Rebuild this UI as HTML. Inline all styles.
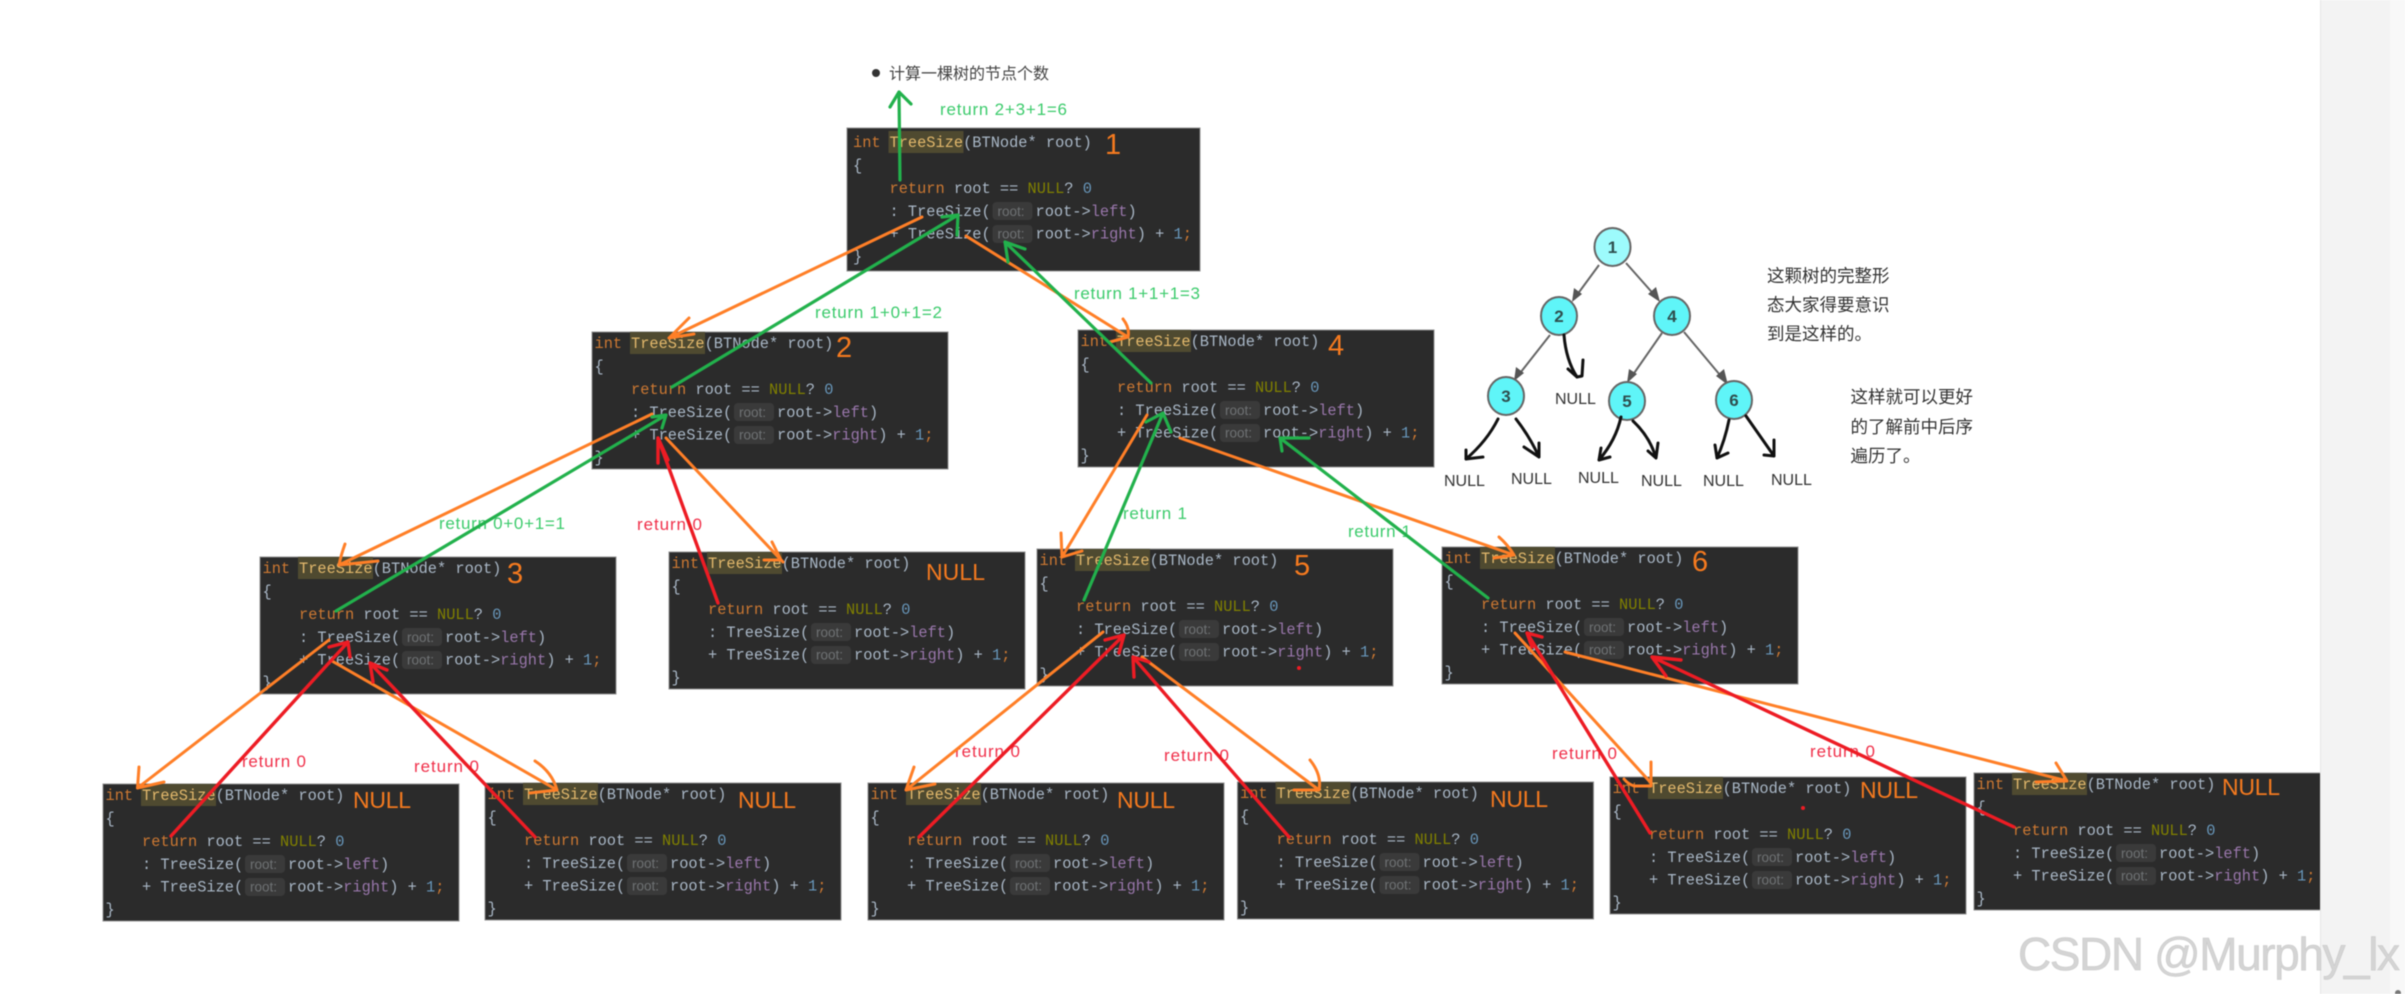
<!DOCTYPE html>
<html lang="zh">
<head>
<meta charset="utf-8">
<title>TreeSize</title>
<style>
html,body{margin:0;padding:0;background:#fff;width:2405px;height:994px;overflow:hidden}
svg{display:block;filter:blur(.45px)}
.c{font-family:"Liberation Mono",monospace;font-size:15.33px;fill:#a9b7c6}
.k{fill:#cc7832}.h{fill:#e2b86c}.n{fill:#808000}.d{fill:#6897bb}.p{fill:#9876aa}.g{fill:#6f7274;font-family:"Liberation Sans",sans-serif;font-size:13.5px}
.bx{fill:#2b2b2b;stroke:#8d8d8d;stroke-width:1}
.hl{fill:#4f4a30}.ch{fill:#3a3a3a}
.o{fill:none;stroke:#ff7f27;stroke-width:3;stroke-linecap:round;stroke-linejoin:round}
.r{fill:none;stroke:#ed1c24;stroke-width:3.4;stroke-linecap:round;stroke-linejoin:round}
.v{fill:none;stroke:#22b14c;stroke-width:3.2;stroke-linecap:round;stroke-linejoin:round}
.b{fill:none;stroke:#111;stroke-width:3;stroke-linecap:round;stroke-linejoin:round}
.t{fill:none;stroke:#666;stroke-width:2}
.lg{font-family:"Liberation Sans",sans-serif;font-size:17px;fill:#3ccb6c}
.lr{font-family:"Liberation Sans",sans-serif;font-size:17px;fill:#f0304a}
.on{font-family:"Liberation Sans",sans-serif;font-size:29px;fill:#f57a1f}
.ol{font-family:"Liberation Sans",sans-serif;font-size:23px;fill:#f57a1f}
.nl{font-family:"Liberation Sans",sans-serif;font-size:16px;fill:#333}
.zh{font-family:"Liberation Sans","Noto Sans CJK SC",sans-serif;font-size:17.5px;fill:#333}
.nd{fill:#5ff5f8;stroke:#666;stroke-width:2}
.nt{font-family:"Liberation Sans",sans-serif;font-size:17px;font-weight:bold;fill:#2f4f4f;text-anchor:middle}
</style>
</head>
<body>
<svg width="2405" height="994" viewBox="0 0 2405 994" xmlns="http://www.w3.org/2000/svg">
<rect width="2405" height="994" fill="#fff"/>

<circle cx="876" cy="73" r="4" fill="#333"/>
<text x="889" y="79" font-size="16" fill="#444" font-family="'Liberation Sans','Noto Sans CJK SC',sans-serif">计算一棵树的节点个数</text>

<!-- Box 1 -->
<g transform="translate(850.5,131)"><rect class="bx" x="-3.5" y="-3" width="353" height="143"/><rect class="hl" x="38" y="0" width="75" height="22"/><rect class="ch" x="142" y="71" width="40" height="18" rx="4"/><rect class="ch" x="142" y="94" width="40" height="18" rx="4"/>
<text class="c" x="2.5" y="16"><tspan class="k">int</tspan></text><text class="c" x="39" y="16"><tspan class="h">TreeSize</tspan>(BTNode* root)</text><text class="c" x="2.5" y="39">{</text><text class="c" x="39" y="62"><tspan class="k">return</tspan> root == <tspan class="n">NULL</tspan>? <tspan class="d">0</tspan></text><text class="c" x="39" y="85">: TreeSize(</text><text class="g" x="147" y="85">root:</text><text class="c" x="185" y="85">root-&gt;<tspan class="p">left</tspan>)</text><text class="c" x="39" y="107.5">+ TreeSize(</text><text class="g" x="147" y="107.5">root:</text><text class="c" x="185" y="107.5">root-&gt;<tspan class="p">right</tspan>) + <tspan class="d">1</tspan><tspan class="k">;</tspan></text><text class="c" x="2.5" y="130">}</text></g>

<!-- Box 2 -->
<g transform="translate(592,332)"><rect class="bx" width="356" height="137"/><rect class="hl" x="38" y="0" width="75" height="22"/><rect class="ch" x="142" y="71" width="40" height="18" rx="4"/><rect class="ch" x="142" y="94" width="40" height="18" rx="4"/>
<text class="c" x="2.5" y="16"><tspan class="k">int</tspan></text><text class="c" x="39" y="16"><tspan class="h">TreeSize</tspan>(BTNode* root)</text><text class="c" x="2.5" y="39">{</text><text class="c" x="39" y="62"><tspan class="k">return</tspan> root == <tspan class="n">NULL</tspan>? <tspan class="d">0</tspan></text><text class="c" x="39" y="85">: TreeSize(</text><text class="g" x="147" y="85">root:</text><text class="c" x="185" y="85">root-&gt;<tspan class="p">left</tspan>)</text><text class="c" x="39" y="107.5">+ TreeSize(</text><text class="g" x="147" y="107.5">root:</text><text class="c" x="185" y="107.5">root-&gt;<tspan class="p">right</tspan>) + <tspan class="d">1</tspan><tspan class="k">;</tspan></text><text class="c" x="2.5" y="130">}</text></g>

<!-- Box 4 -->
<g transform="translate(1078,330)"><rect class="bx" width="356" height="137"/><rect class="hl" x="38" y="0" width="75" height="22"/><rect class="ch" x="142" y="71" width="40" height="18" rx="4"/><rect class="ch" x="142" y="94" width="40" height="18" rx="4"/>
<text class="c" x="2.5" y="16"><tspan class="k">int</tspan></text><text class="c" x="39" y="16"><tspan class="h">TreeSize</tspan>(BTNode* root)</text><text class="c" x="2.5" y="39">{</text><text class="c" x="39" y="62"><tspan class="k">return</tspan> root == <tspan class="n">NULL</tspan>? <tspan class="d">0</tspan></text><text class="c" x="39" y="85">: TreeSize(</text><text class="g" x="147" y="85">root:</text><text class="c" x="185" y="85">root-&gt;<tspan class="p">left</tspan>)</text><text class="c" x="39" y="107.5">+ TreeSize(</text><text class="g" x="147" y="107.5">root:</text><text class="c" x="185" y="107.5">root-&gt;<tspan class="p">right</tspan>) + <tspan class="d">1</tspan><tspan class="k">;</tspan></text><text class="c" x="2.5" y="130">}</text></g>

<!-- Box 3 -->
<g transform="translate(260,557)"><rect class="bx" width="356" height="137"/><rect class="hl" x="38" y="0" width="75" height="22"/><rect class="ch" x="142" y="71" width="40" height="18" rx="4"/><rect class="ch" x="142" y="94" width="40" height="18" rx="4"/>
<text class="c" x="2.5" y="16"><tspan class="k">int</tspan></text><text class="c" x="39" y="16"><tspan class="h">TreeSize</tspan>(BTNode* root)</text><text class="c" x="2.5" y="39">{</text><text class="c" x="39" y="62"><tspan class="k">return</tspan> root == <tspan class="n">NULL</tspan>? <tspan class="d">0</tspan></text><text class="c" x="39" y="85">: TreeSize(</text><text class="g" x="147" y="85">root:</text><text class="c" x="185" y="85">root-&gt;<tspan class="p">left</tspan>)</text><text class="c" x="39" y="107.5">+ TreeSize(</text><text class="g" x="147" y="107.5">root:</text><text class="c" x="185" y="107.5">root-&gt;<tspan class="p">right</tspan>) + <tspan class="d">1</tspan><tspan class="k">;</tspan></text><text class="c" x="2.5" y="130">}</text></g>

<!-- Box mid NULL -->
<g transform="translate(669,552)"><rect class="bx" width="356" height="137"/><rect class="hl" x="38" y="0" width="75" height="22"/><rect class="ch" x="142" y="71" width="40" height="18" rx="4"/><rect class="ch" x="142" y="94" width="40" height="18" rx="4"/>
<text class="c" x="2.5" y="16"><tspan class="k">int</tspan></text><text class="c" x="39" y="16"><tspan class="h">TreeSize</tspan>(BTNode* root)</text><text class="c" x="2.5" y="39">{</text><text class="c" x="39" y="62"><tspan class="k">return</tspan> root == <tspan class="n">NULL</tspan>? <tspan class="d">0</tspan></text><text class="c" x="39" y="85">: TreeSize(</text><text class="g" x="147" y="85">root:</text><text class="c" x="185" y="85">root-&gt;<tspan class="p">left</tspan>)</text><text class="c" x="39" y="107.5">+ TreeSize(</text><text class="g" x="147" y="107.5">root:</text><text class="c" x="185" y="107.5">root-&gt;<tspan class="p">right</tspan>) + <tspan class="d">1</tspan><tspan class="k">;</tspan></text><text class="c" x="2.5" y="130">}</text></g>

<!-- Box 5 -->
<g transform="translate(1037,549)"><rect class="bx" width="356" height="137"/><rect class="hl" x="38" y="0" width="75" height="22"/><rect class="ch" x="142" y="71" width="40" height="18" rx="4"/><rect class="ch" x="142" y="94" width="40" height="18" rx="4"/>
<text class="c" x="2.5" y="16"><tspan class="k">int</tspan></text><text class="c" x="39" y="16"><tspan class="h">TreeSize</tspan>(BTNode* root)</text><text class="c" x="2.5" y="39">{</text><text class="c" x="39" y="62"><tspan class="k">return</tspan> root == <tspan class="n">NULL</tspan>? <tspan class="d">0</tspan></text><text class="c" x="39" y="85">: TreeSize(</text><text class="g" x="147" y="85">root:</text><text class="c" x="185" y="85">root-&gt;<tspan class="p">left</tspan>)</text><text class="c" x="39" y="107.5">+ TreeSize(</text><text class="g" x="147" y="107.5">root:</text><text class="c" x="185" y="107.5">root-&gt;<tspan class="p">right</tspan>) + <tspan class="d">1</tspan><tspan class="k">;</tspan></text><text class="c" x="2.5" y="130">}</text></g>

<!-- Box 6 -->
<g transform="translate(1442,547)"><rect class="bx" width="356" height="137"/><rect class="hl" x="38" y="0" width="75" height="22"/><rect class="ch" x="142" y="71" width="40" height="18" rx="4"/><rect class="ch" x="142" y="94" width="40" height="18" rx="4"/>
<text class="c" x="2.5" y="16"><tspan class="k">int</tspan></text><text class="c" x="39" y="16"><tspan class="h">TreeSize</tspan>(BTNode* root)</text><text class="c" x="2.5" y="39">{</text><text class="c" x="39" y="62"><tspan class="k">return</tspan> root == <tspan class="n">NULL</tspan>? <tspan class="d">0</tspan></text><text class="c" x="39" y="85">: TreeSize(</text><text class="g" x="147" y="85">root:</text><text class="c" x="185" y="85">root-&gt;<tspan class="p">left</tspan>)</text><text class="c" x="39" y="107.5">+ TreeSize(</text><text class="g" x="147" y="107.5">root:</text><text class="c" x="185" y="107.5">root-&gt;<tspan class="p">right</tspan>) + <tspan class="d">1</tspan><tspan class="k">;</tspan></text><text class="c" x="2.5" y="130">}</text></g>

<!-- Bottom a -->
<g transform="translate(103,784)"><rect class="bx" width="356" height="137"/><rect class="hl" x="38" y="0" width="75" height="22"/><rect class="ch" x="142" y="71" width="40" height="18" rx="4"/><rect class="ch" x="142" y="94" width="40" height="18" rx="4"/>
<text class="c" x="2.5" y="16"><tspan class="k">int</tspan></text><text class="c" x="39" y="16"><tspan class="h">TreeSize</tspan>(BTNode* root)</text><text class="c" x="2.5" y="39">{</text><text class="c" x="39" y="62"><tspan class="k">return</tspan> root == <tspan class="n">NULL</tspan>? <tspan class="d">0</tspan></text><text class="c" x="39" y="85">: TreeSize(</text><text class="g" x="147" y="85">root:</text><text class="c" x="185" y="85">root-&gt;<tspan class="p">left</tspan>)</text><text class="c" x="39" y="107.5">+ TreeSize(</text><text class="g" x="147" y="107.5">root:</text><text class="c" x="185" y="107.5">root-&gt;<tspan class="p">right</tspan>) + <tspan class="d">1</tspan><tspan class="k">;</tspan></text><text class="c" x="2.5" y="130">}</text></g>

<!-- Bottom b -->
<g transform="translate(485,783)"><rect class="bx" width="356" height="137"/><rect class="hl" x="38" y="0" width="75" height="22"/><rect class="ch" x="142" y="71" width="40" height="18" rx="4"/><rect class="ch" x="142" y="94" width="40" height="18" rx="4"/>
<text class="c" x="2.5" y="16"><tspan class="k">int</tspan></text><text class="c" x="39" y="16"><tspan class="h">TreeSize</tspan>(BTNode* root)</text><text class="c" x="2.5" y="39">{</text><text class="c" x="39" y="62"><tspan class="k">return</tspan> root == <tspan class="n">NULL</tspan>? <tspan class="d">0</tspan></text><text class="c" x="39" y="85">: TreeSize(</text><text class="g" x="147" y="85">root:</text><text class="c" x="185" y="85">root-&gt;<tspan class="p">left</tspan>)</text><text class="c" x="39" y="107.5">+ TreeSize(</text><text class="g" x="147" y="107.5">root:</text><text class="c" x="185" y="107.5">root-&gt;<tspan class="p">right</tspan>) + <tspan class="d">1</tspan><tspan class="k">;</tspan></text><text class="c" x="2.5" y="130">}</text></g>

<!-- Bottom c -->
<g transform="translate(868,783)"><rect class="bx" width="356" height="137"/><rect class="hl" x="38" y="0" width="75" height="22"/><rect class="ch" x="142" y="71" width="40" height="18" rx="4"/><rect class="ch" x="142" y="94" width="40" height="18" rx="4"/>
<text class="c" x="2.5" y="16"><tspan class="k">int</tspan></text><text class="c" x="39" y="16"><tspan class="h">TreeSize</tspan>(BTNode* root)</text><text class="c" x="2.5" y="39">{</text><text class="c" x="39" y="62"><tspan class="k">return</tspan> root == <tspan class="n">NULL</tspan>? <tspan class="d">0</tspan></text><text class="c" x="39" y="85">: TreeSize(</text><text class="g" x="147" y="85">root:</text><text class="c" x="185" y="85">root-&gt;<tspan class="p">left</tspan>)</text><text class="c" x="39" y="107.5">+ TreeSize(</text><text class="g" x="147" y="107.5">root:</text><text class="c" x="185" y="107.5">root-&gt;<tspan class="p">right</tspan>) + <tspan class="d">1</tspan><tspan class="k">;</tspan></text><text class="c" x="2.5" y="130">}</text></g>

<!-- Bottom d -->
<g transform="translate(1237.5,782)"><rect class="bx" width="356" height="137"/><rect class="hl" x="38" y="0" width="75" height="22"/><rect class="ch" x="142" y="71" width="40" height="18" rx="4"/><rect class="ch" x="142" y="94" width="40" height="18" rx="4"/>
<text class="c" x="2.5" y="16"><tspan class="k">int</tspan></text><text class="c" x="39" y="16"><tspan class="h">TreeSize</tspan>(BTNode* root)</text><text class="c" x="2.5" y="39">{</text><text class="c" x="39" y="62"><tspan class="k">return</tspan> root == <tspan class="n">NULL</tspan>? <tspan class="d">0</tspan></text><text class="c" x="39" y="85">: TreeSize(</text><text class="g" x="147" y="85">root:</text><text class="c" x="185" y="85">root-&gt;<tspan class="p">left</tspan>)</text><text class="c" x="39" y="107.5">+ TreeSize(</text><text class="g" x="147" y="107.5">root:</text><text class="c" x="185" y="107.5">root-&gt;<tspan class="p">right</tspan>) + <tspan class="d">1</tspan><tspan class="k">;</tspan></text><text class="c" x="2.5" y="130">}</text></g>

<!-- Bottom e -->
<g transform="translate(1610,777)"><rect class="bx" width="356" height="137"/><rect class="hl" x="38" y="0" width="75" height="22"/><rect class="ch" x="142" y="71" width="40" height="18" rx="4"/><rect class="ch" x="142" y="94" width="40" height="18" rx="4"/>
<text class="c" x="2.5" y="16"><tspan class="k">int</tspan></text><text class="c" x="39" y="16"><tspan class="h">TreeSize</tspan>(BTNode* root)</text><text class="c" x="2.5" y="39">{</text><text class="c" x="39" y="62"><tspan class="k">return</tspan> root == <tspan class="n">NULL</tspan>? <tspan class="d">0</tspan></text><text class="c" x="39" y="85">: TreeSize(</text><text class="g" x="147" y="85">root:</text><text class="c" x="185" y="85">root-&gt;<tspan class="p">left</tspan>)</text><text class="c" x="39" y="107.5">+ TreeSize(</text><text class="g" x="147" y="107.5">root:</text><text class="c" x="185" y="107.5">root-&gt;<tspan class="p">right</tspan>) + <tspan class="d">1</tspan><tspan class="k">;</tspan></text><text class="c" x="2.5" y="130">}</text></g>

<!-- Bottom f -->
<g transform="translate(1974,773)"><rect class="bx" width="356" height="137"/><rect class="hl" x="38" y="0" width="75" height="22"/><rect class="ch" x="142" y="71" width="40" height="18" rx="4"/><rect class="ch" x="142" y="94" width="40" height="18" rx="4"/>
<text class="c" x="2.5" y="16"><tspan class="k">int</tspan></text><text class="c" x="39" y="16"><tspan class="h">TreeSize</tspan>(BTNode* root)</text><text class="c" x="2.5" y="39">{</text><text class="c" x="39" y="62"><tspan class="k">return</tspan> root == <tspan class="n">NULL</tspan>? <tspan class="d">0</tspan></text><text class="c" x="39" y="85">: TreeSize(</text><text class="g" x="147" y="85">root:</text><text class="c" x="185" y="85">root-&gt;<tspan class="p">left</tspan>)</text><text class="c" x="39" y="107.5">+ TreeSize(</text><text class="g" x="147" y="107.5">root:</text><text class="c" x="185" y="107.5">root-&gt;<tspan class="p">right</tspan>) + <tspan class="d">1</tspan><tspan class="k">;</tspan></text><text class="c" x="2.5" y="130">}</text></g>

<!-- Orange handwritten labels -->
<text class="on" x="1105" y="154">1</text>
<text class="on" x="836" y="357">2</text>
<text class="on" x="1328" y="355">4</text>
<text class="on" x="507" y="583">3</text>
<text class="on" x="1294" y="575">5</text>
<text class="on" x="1692" y="571">6</text>
<text class="ol" x="926" y="580" textLength="59">NULL</text>
<text class="ol" x="353" y="808" textLength="58">NULL</text>
<text class="ol" x="738" y="808" textLength="58">NULL</text>
<text class="ol" x="1117" y="808" textLength="58">NULL</text>
<text class="ol" x="1490" y="807" textLength="58">NULL</text>
<text class="ol" x="1860" y="798" textLength="58">NULL</text>
<text class="ol" x="2222" y="795" textLength="58">NULL</text>

<!-- Return labels -->
<text class="lg" x="940" y="115" textLength="127">return 2+3+1=6</text>
<text class="lg" x="1074" y="299" textLength="126">return 1+1+1=3</text>
<text class="lg" x="815" y="318" textLength="127">return 1+0+1=2</text>
<text class="lg" x="439" y="529" textLength="126">return 0+0+1=1</text>
<text class="lg" x="1123" y="519" textLength="64">return 1</text>
<text class="lg" x="1348" y="537" textLength="63">return 1</text>
<text class="lr" x="637" y="530" textLength="65">return 0</text>
<text class="lr" x="242" y="767" textLength="64">return 0</text>
<text class="lr" x="414" y="772" textLength="65">return 0</text>
<text class="lr" x="955" y="757" textLength="65">return 0</text>
<text class="lr" x="1164" y="761" textLength="65">return 0</text>
<text class="lr" x="1552" y="759" textLength="65">return 0</text>
<text class="lr" x="1810" y="757" textLength="65">return 0</text>

<!-- Orange arrows -->
<path class="o" d="M922 217L669 338M689 318L669 338L694 334"/>
<path class="o" d="M966 236L1128 337M1123 319Q1130 328 1128 337L1110 342"/>
<path class="o" d="M652 414L339 565M345 544Q341 555 339 565L378 561"/>
<path class="o" d="M666 438L783 562M772 542L783 560L764 560" style="display:none"/>
<path class="o" d="M666 438L783 562"/>
<path class="o" d="M772 542L781 560L764 560"/>
<path class="o" d="M1147 415L1062 557M1061 533L1062 557L1082 551"/>
<path class="o" d="M1180 438L1514 555M1499 537Q1508 545 1514 555L1494 558"/>
<path class="o" d="M329 640L137.5 788M139 767L137.5 788L164 782"/>
<path class="o" d="M332 661L557 790M535 761Q552 772 557 790L530 793"/>
<path class="o" d="M1103 632L906 790M914 767L906 790L935 784"/>
<path class="o" d="M1142 657L1319 790M1310 760Q1322 775 1319 790L1294 790"/>
<path class="o" d="M1515 633L1651 783M1651 762L1651 786L1634 786Q1628 784 1624 779"/>
<path class="o" d="M1565 652L2067 781M2056 763L2067 781L2036 782"/>

<!-- Green arrows -->
<path class="v" d="M900 180L899 92M890 107L899 92L911 104"/>
<path class="v" d="M672 387L958 215M942 217L958 215L957 235"/>
<path class="v" d="M1151 383L1005 242M1025 249L1005 242L1008 262"/>
<path class="v" d="M336 611L666 415M652 417L666 415L662 428"/>
<path class="v" d="M1084 600L1163 413M1146 422L1163 413L1171 432"/>
<path class="v" d="M1488 598L1280 438M1309 438L1280 438L1282 451"/>

<!-- Red arrows -->
<path class="r" d="M718 603L658 438M658 463L658 438L668 460"/>
<path class="r" d="M171 836L348 642M329 647L348 642L350 657"/>
<path class="r" d="M535 837L370 663M387 670L370 663L373 682"/>
<path class="r" d="M919 837L1124 635M1105 640L1124 635L1119 653"/>
<path class="r" d="M1289 837L1133 657M1149 662L1133 657L1134 677"/>
<path class="r" d="M1650 833L1527 633M1542 637L1527 633L1532 647"/>
<path class="r" d="M2014 827L1652 657M1681 660L1652 657L1666 676"/>
<circle cx="1299" cy="668" r="2" fill="#ed1c24"/>
<circle cx="1803" cy="808" r="2" fill="#ed1c24"/>

<!-- Small tree -->
<g>
<path class="t" d="M1599 265L1574 299M1626 263L1657 298M1550 335L1517 377M1662 333L1630 379M1684 332L1725 381"/>
<path fill="#555" d="M1572 302L1574 288L1582 294ZM1660 302L1648 294L1656 287ZM1514 381L1516 367L1524 373ZM1627 383L1629 369L1637 374ZM1728 385L1716 376L1724 369Z"/>
<ellipse cx="1612.5" cy="247" rx="18" ry="19" fill="#9dfbfc" stroke="#666" stroke-width="2"/>
<ellipse class="nd" cx="1559" cy="316" rx="18" ry="19"/>
<ellipse class="nd" cx="1672" cy="316" rx="18" ry="19"/>
<ellipse class="nd" cx="1506" cy="396" rx="18" ry="19"/>
<ellipse class="nd" cx="1627" cy="401" rx="18" ry="19"/>
<ellipse class="nd" cx="1734" cy="400" rx="18" ry="19"/>
<text class="nt" x="1612.5" y="253">1</text>
<text class="nt" x="1559" y="322">2</text>
<text class="nt" x="1672" y="322">4</text>
<text class="nt" x="1506" y="402">3</text>
<text class="nt" x="1627" y="407">5</text>
<text class="nt" x="1734" y="406">6</text>
<path class="b" d="M1564 335Q1566 360 1577 377M1568 369L1577 377L1582 376L1583 360"/>
<path class="b" d="M1498 419Q1487 441 1466 459M1466 450L1466 459L1483 457"/>
<path class="b" d="M1516 419Q1530 437 1539 457M1524 447L1539 457L1539 443"/>
<path class="b" d="M1621 417Q1616 440 1599 460M1601 448L1599 460L1610 457"/>
<path class="b" d="M1633 421Q1650 437 1656 458M1648 451L1656 458L1658 443"/>
<path class="b" d="M1729 420Q1725 440 1717 458M1715 445L1717 458L1728 453"/>
<path class="b" d="M1746 416L1774 456M1764 455L1774 456L1774 440"/>
<text class="nl" x="1555" y="404">NULL</text>
<text class="nl" x="1444" y="486">NULL</text>
<text class="nl" x="1511" y="484">NULL</text>
<text class="nl" x="1578" y="483">NULL</text>
<text class="nl" x="1641" y="486">NULL</text>
<text class="nl" x="1703" y="486">NULL</text>
<text class="nl" x="1771" y="485">NULL</text>
<text class="zh" x="1767" y="282">这颗树的完整形</text>
<text class="zh" x="1767" y="311">态大家得要意识</text>
<text class="zh" x="1767" y="340">到是这样的。</text>
<text class="zh" x="1850.5" y="403">这样就可以更好</text>
<text class="zh" x="1850.5" y="433">的了解前中后序</text>
<text class="zh" x="1850.5" y="462">遍历了。</text>
</g>

<!-- Side panel -->
<rect x="2320" y="0" width="70" height="994" fill="#f3f3f3"/>
<rect x="2320" y="0" width="1" height="994" fill="#e6e6e6"/>
<rect x="2390" y="0" width="15" height="994" fill="#f8f8f8"/>
<circle cx="2398" cy="993" r="3" fill="#777"/>

<!-- Watermark -->
<text x="2018" y="970" font-family="'Liberation Sans',sans-serif" font-size="46" textLength="382" fill="#d4d4d4" stroke="#c8c8c8" stroke-width=".5">CSDN @Murphy_lx</text>
</svg>
</body>
</html>
